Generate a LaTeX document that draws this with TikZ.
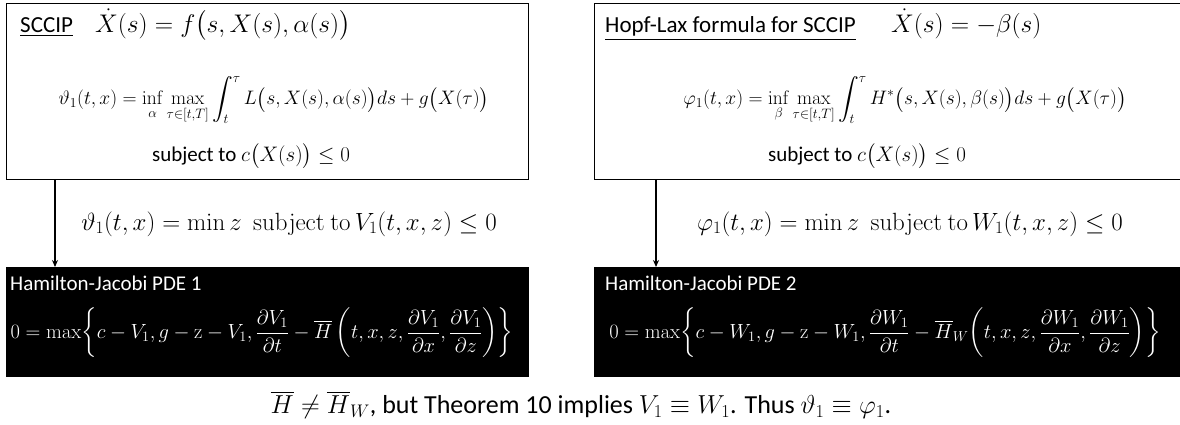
\RequirePackage{fix-cm}
\documentclass[tikz,border=0pt]{standalone}
\usepackage{amsmath}
\usepackage[no-math]{fontspec}
\setmainfont{Carlito}
\usetikzlibrary{arrows.meta}
\tikzset{
  frame/.style={draw=black, line width=1.2pt, anchor=north west, inner sep=0pt},
  blackbox/.style={fill=black, draw=none, anchor=north west, inner sep=0pt},
  txt/.style={inner sep=0pt, font=\fontsize{21}{25}\selectfont},
  ttl/.style={inner sep=0pt, font=\fontsize{23}{27}\selectfont},
  bigmath/.style={inner sep=0pt, font=\fontsize{25.5}{30}\selectfont},
  lblmath/.style={inner sep=0pt, font=\fontsize{24.9}{29}\selectfont},
  formula/.style={inner sep=0pt, font=\fontsize{19.5}{26}\selectfont},
  pde/.style={inner sep=0pt, text=white, font=\fontsize{20.5}{24}\selectfont},
  wtxt/.style={txt, text=white},
  conn/.style={line width=1.4pt, -{Stealth[length=7pt,width=6pt]}},
}
\begin{document}
\begin{tikzpicture}[x=1pt,y=1pt]
\useasboundingbox (0,0) rectangle (1180,-424);
% boxes
\node[frame, minimum width=522pt, minimum height=176pt] (sccip) at (6,-3) {};
\node[frame, minimum width=600pt, minimum height=176pt] (hopf) at (594,-3) {};
\node[blackbox, minimum width=523pt, minimum height=110pt] (hj1) at (6,-267) {};
\node[blackbox, minimum width=600pt, minimum height=110pt] (hj2) at (594,-267) {};
% left top texts
\node[ttl, anchor=base west] (t1) at (20,-32) {\underline{SCCIP}};
\node[bigmath, anchor=base west] (t2) at (95,-32) {$\dot X(s) = f\big(s, X(s), \alpha(s)\big)$};
\node[formula] (t3) at (274,-100) {$\displaystyle \vartheta_1(t,x) = \inf_{\alpha}\max_{\tau\in[t,T]}\int_t^{\tau} L\big(s,X(s),\alpha(s)\big)ds + g\big(X(\tau)\big)$};
\node[txt] (t4) at (251,-156) {subject to $c\big(X(s)\big) \le 0$};
% right top texts
\node[ttl, anchor=base west] (r1) at (605,-32) {\underline{Hopf-Lax formula for SCCIP}};
\node[bigmath, anchor=base west] (r2) at (891,-32) {$\dot X(s) = -\beta(s)$};
\node[formula] (r3) at (905,-100) {$\displaystyle \varphi_1(t,x) = \inf_{\beta}\max_{\tau\in[t,T]}\int_t^{\tau} H^*\big(s,X(s),\beta(s)\big)ds + g\big(X(\tau)\big)$};
\node[txt] (r4) at (867,-156) {subject to $c\big(X(s)\big) \le 0$};
% connectors
\draw[conn] ([xshift=49pt]sccip.south west) -- ([xshift=49pt]hj1.north west);
\draw[conn] ([xshift=62pt]hopf.south west) -- ([xshift=62pt]hj2.north west);
\node[lblmath] (l1) at (289,-224) {$\vartheta_1(t,x) = \min z\ \ \mathrm{subject~to}\, V_1(t,x,z) \le 0$};
\node[lblmath] (l2) at (910,-224) {$\varphi_1(t,x) = \min z\ \ \mathrm{subject~to}\, W_1(t,x,z) \le 0$};
% black box texts
\node[wtxt, anchor=base west] (h1) at (10,-290) {Hamilton-Jacobi PDE 1};
\node[pde] (p1) at (262,-333) {$\displaystyle 0 = \max\biggl\{c - V_1, g - \mathrm{z} - V_1, \frac{\partial V_1}{\partial t} - \overline{H}\,\biggl(t,x,z,\frac{\partial V_1}{\partial x},\frac{\partial V_1}{\partial z}\biggr)\biggr\}$};
\node[wtxt, anchor=base west] (h2) at (605,-290) {Hamilton-Jacobi PDE 2};
\node[pde] (p2) at (885,-333) {$\displaystyle 0 = \max\biggl\{c - W_1, g - \mathrm{z} - W_1, \frac{\partial W_1}{\partial t} - \overline{H}_W\biggl(t,x,z,\frac{\partial W_1}{\partial x},\frac{\partial W_1}{\partial z}\biggr)\biggr\}$};
% bottom
\node[inner sep=0pt, font=\fontsize{26}{31}\selectfont] (b) at (581,-405) {$\overline{H} \neq \overline{H}_W$, but Theorem 10 implies $V_1 \equiv W_1$. Thus $\vartheta_1 \equiv \varphi_1$.};
\end{tikzpicture}
\end{document}
